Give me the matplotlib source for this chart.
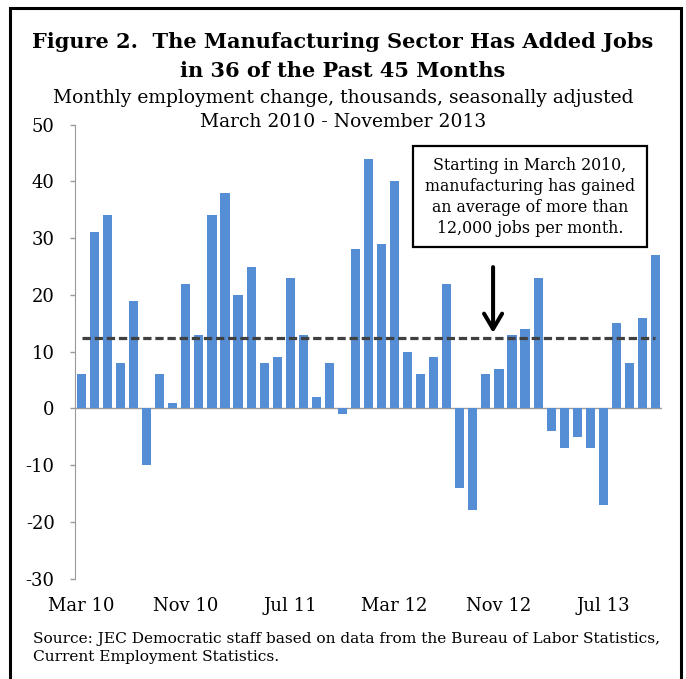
import matplotlib
matplotlib.use("Agg")
import matplotlib.pyplot as plt
from matplotlib.patches import Rectangle

# Monthly change in manufacturing employment (thousands), Mar 2010 - Nov 2013
months = [
    "Mar 10", "Apr 10", "May 10", "Jun 10", "Jul 10", "Aug 10", "Sep 10", "Oct 10",
    "Nov 10", "Dec 10", "Jan 11", "Feb 11", "Mar 11", "Apr 11", "May 11", "Jun 11",
    "Jul 11", "Aug 11", "Sep 11", "Oct 11", "Nov 11", "Dec 11", "Jan 12", "Feb 12",
    "Mar 12", "Apr 12", "May 12", "Jun 12", "Jul 12", "Aug 12", "Sep 12", "Oct 12",
    "Nov 12", "Dec 12", "Jan 13", "Feb 13", "Mar 13", "Apr 13", "May 13", "Jun 13",
    "Jul 13", "Aug 13", "Sep 13", "Oct 13", "Nov 13",
]
job_change = [
    6, 31, 34, 8, 19, -10, 6, 1, 22, 13, 34, 38, 20, 25, 8, 9,
    23, 13, 2, 8, -1, 28, 44, 29, 40, 10, 6, 9, 22, -14, -18, 6,
    7, 13, 14, 23, -4, -7, -5, -7, -17, 15, 8, 16, 27,
]
average_change = sum(job_change) / len(job_change)

y_ticks = [-30, -20, -10, 0, 10, 20, 30, 40, 50]
label_step = 8

serif = ["DejaVu Serif"]
plt.rcParams["font.family"] = serif

W, H = 686, 679
fig = plt.figure(figsize=(W / 100, H / 100), dpi=100)

# outer frame
fig.patches.append(Rectangle((10 / W, -0.02), (681 - 10) / W, (H - 8) / H + 0.02,
                             transform=fig.transFigure, fill=False,
                             edgecolor="black", linewidth=2.2))

ax = fig.add_axes([75 / W, 1 - 578.5 / H, (662 - 75) / W, (578.5 - 124.7) / H])

x = list(range(len(job_change)))
ax.bar(x, job_change, width=0.7, color="#558ED5", zorder=2)
ax.axhline(0, color="#9a9a9a", linewidth=1.0, zorder=1)
ax.plot([x[0], x[-1]], [average_change] * 2, color="#404040", linewidth=2.3,
        linestyle=(0, (2.6, 1.2)), zorder=3)

ax.set_xlim(-0.5, len(job_change) - 0.5)
ax.set_ylim(-30, 50)
ax.set_yticks(y_ticks)
ax.set_yticklabels([str(v) for v in y_ticks])
ax.set_xticks(x[::label_step])
ax.set_xticklabels(months[::label_step])

for side in ("top", "right", "bottom"):
    ax.spines[side].set_visible(False)
ax.spines["left"].set_color("#9a9a9a")
ax.tick_params(axis="y", colors="#9a9a9a", length=3.6, width=1, pad=11,
               labelcolor="black", labelsize=13)
ax.tick_params(axis="x", length=0, pad=13.5, labelcolor="black", labelsize=13)
ax.patch.set_alpha(0)

# titles
fig.text(0.5, 1 - 42 / H, "Figure 2.  The Manufacturing Sector Has Added Jobs",
         ha="center", va="center", fontsize=15, fontweight="bold")
fig.text(0.5, 1 - 71 / H, "in 36 of the Past 45 Months",
         ha="center", va="center", fontsize=15, fontweight="bold")
fig.text(0.5, 1 - 98 / H, "Monthly employment change, thousands, seasonally adjusted",
         ha="center", va="center", fontsize=13.5)
fig.text(0.5, 1 - 122 / H, "March 2010 - November 2013",
         ha="center", va="center", fontsize=13.5)

# annotation box and arrow
fig.text(530 / W, 1 - 197 / H,
         "Starting in March 2010,\nmanufacturing has gained\nan average of more than\n12,000 jobs per month.",
         ha="center", va="center", fontsize=11.4, linespacing=1.3)
fig.patches.append(Rectangle((413 / W, 1 - 247 / H), (647 - 413) / W, (247 - 146) / H,
                             transform=fig.transFigure, fill=True, facecolor="white",
                             edgecolor="black", linewidth=1.6, zorder=-1))
ax.annotate("", xy=(31.55, 13.3), xytext=(31.55, 24.9),
            arrowprops=dict(arrowstyle="->,head_length=1.1,head_width=0.65",
                            color="black", linewidth=2.9,
                            shrinkA=0, shrinkB=0))

fig.text(33 / W, 1 - 632 / H,
         "Source: JEC Democratic staff based on data from the Bureau of Labor Statistics,\nCurrent Employment Statistics.",
         ha="left", va="top", fontsize=11.1, linespacing=1.35)

fig.savefig("out.png", dpi=100)
